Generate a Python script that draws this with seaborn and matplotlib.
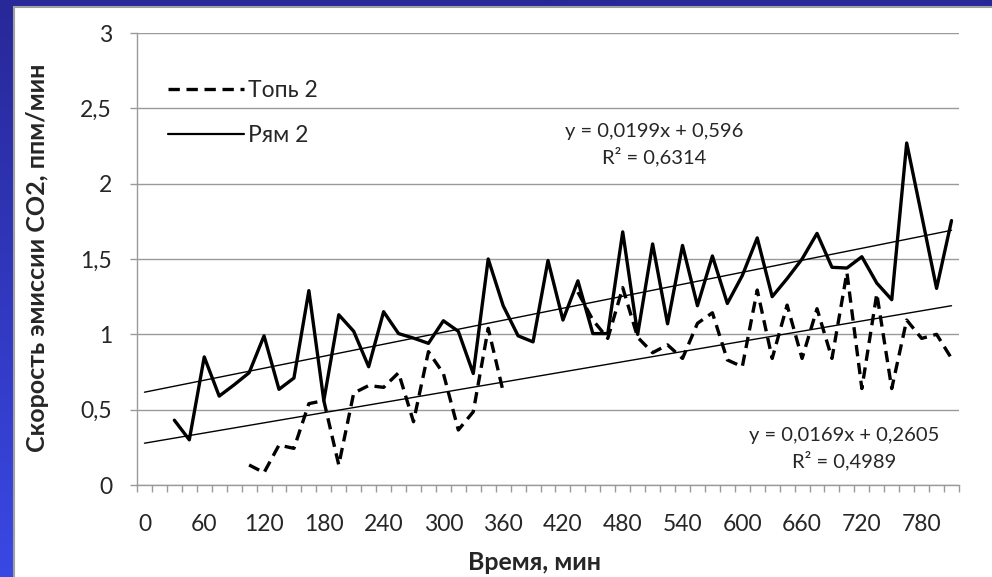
import numpy as np
import pandas as pd
import matplotlib
matplotlib.use("Agg")
import matplotlib.pyplot as plt
from matplotlib.lines import Line2D
from matplotlib.patches import Rectangle
import seaborn as sns

nan = np.nan
# categories: time in minutes (every 15 min)
times = list(range(0, 825, 15))  # 55 categories
tick_labels = ["0", "60", "120", "180", "240", "300", "360", "420",
               "480", "540", "600", "660", "720", "780"]

ryam2 = [nan, nan, 0.43, 0.30, 0.85, 0.59, 0.665, 0.745, 0.99, 0.635,
         0.71, 1.29, 0.56, 1.13, 1.02, 0.785, 1.15, 1.005, 0.975, 0.94,
         1.09, 1.02, 0.74, 1.50, 1.19, 0.99, 0.95, 1.49, 1.095, 1.355,
         1.005, 1.005, 1.68, 1.0, 1.60, 1.07, 1.59, 1.19, 1.52, 1.205,
         1.39, 1.64, 1.25, 1.37, 1.50, 1.67, 1.445, 1.44, 1.515, 1.34,
         1.23, 2.27, 1.79, 1.305, 1.755]

top2 = [nan, nan, nan, nan, nan, nan, nan, 0.133, 0.082, 0.265,
        0.243, 0.54, 0.56, 0.133, 0.61, 0.66, 0.648, 0.745, 0.42, 0.885,
        0.74, 0.365, 0.486, 1.04, 0.62, nan, nan, nan, nan, 1.28,
        1.095, 0.973, 1.31, 0.98, 0.878, 0.93, 0.84, 1.073, 1.143, 0.83,
        0.785, 1.294, 0.84, 1.194, 0.84, 1.17, 0.84, 1.41, 0.64, 1.27,
        0.64, 1.095, 0.973, 1.0, 0.84]

series_names = ["Топь 2", "Рям 2"]
trend_slope = [0.0169, 0.0199]
trend_icept = [0.2605, 0.596]
trend_text = ["y = 0,0169x + 0,2605\nR² = 0,4989",
              "y = 0,0199x + 0,596\nR² = 0,6314"]

# ---- build long data with segment ids (gaps break lines) ----
rows = []
for name, vals in zip(series_names, [top2, ryam2]):
    seg = 0
    prev_nan = True
    for i, v in enumerate(vals):
        if np.isnan(v):
            prev_nan = True
            continue
        if prev_nan:
            seg += 1
            prev_nan = False
        rows.append({"idx": i, "val": v, "series": name, "seg": f"{name}_{seg}"})
df = pd.DataFrame(rows)

n = len(times)
trows = []
for name, a, b in zip(series_names, trend_slope, trend_icept):
    for i in [0, n - 1]:
        trows.append({"idx": i, "val": a * (i + 1) + b, "series": name})
tdf = pd.DataFrame(trows)

sns.set_theme(style="white")
FONT = ["Lato", "DejaVu Sans"]
plt.rcParams["font.family"] = FONT

W, H = 992, 577
fig = plt.figure(figsize=(W / 100, H / 100), dpi=100)

# background blue frame with gradient
bg = fig.add_axes([0, 0, 1, 1], zorder=-10)
grad = np.linspace(0, 1, 256).reshape(-1, 1)
c_top = np.array([0x28, 0x28, 0x98]) / 255
c_bot = np.array([0x3a, 0x48, 0xe4]) / 255
img = c_top[None, None, :] * (1 - grad[:, :, None]) + c_bot[None, None, :] * grad[:, :, None]
bg.imshow(img, aspect="auto", extent=[0, 1, 0, 1], origin="upper")
bg.set_xlim(0, 1)
bg.set_ylim(0, 1)
bg.add_patch(Rectangle((14 / W, -0.01), 1.0, 1 - 7 / H + 0.01,
                       facecolor="white", edgecolor="#a0a0a0", linewidth=1.5))
bg.axis("off")

L, R, T, B = 137, 959, 33, 485
ax = fig.add_axes([L / W, 1 - B / H, (R - L) / W, (B - T) / H])
ax.set_facecolor("none")

LW = 2.4
DASH = (3.4, 2.0)
sns.lineplot(data=df, x="idx", y="val", style="series", units="seg",
             estimator=None, color="black", linewidth=LW,
             dashes={"Топь 2": DASH, "Рям 2": ""},
             style_order=series_names, legend=False, ax=ax, sort=False)
sns.lineplot(data=tdf, x="idx", y="val", units="series", estimator=None,
             color="black", linewidth=1.0, legend=False, ax=ax)

TXT = "#262626"
ax.set_xlim(-0.5, n - 0.5)
ax.set_ylim(0, 3)
ax.set_yticks(np.arange(0, 3.01, 0.5))
ax.set_yticklabels(["0", "0,5", "1", "1,5", "2", "2,5", "3"])
ax.set_xticks(np.arange(0, n, 4))
ax.set_xticklabels(tick_labels)
ax.set_xticks(np.arange(-0.5, n, 1), minor=True)
ax.grid(axis="y", color="#9a9a9a", linewidth=1.0)
ax.grid(axis="x", visible=False)
for s in ["top", "right"]:
    ax.spines[s].set_visible(False)
for s in ["left", "bottom"]:
    ax.spines[s].set_color("#9a9a9a")
    ax.spines[s].set_linewidth(1.0)
ax.tick_params(axis="x", which="major", length=0, pad=21, labelsize=16.5,
               colors=TXT)
ax.tick_params(axis="x", which="minor", length=5, width=1, color="#9a9a9a",
               direction="out", bottom=True)
ax.tick_params(axis="y", which="major", length=5, width=1, color="#9a9a9a",
               left=True, pad=13, labelsize=16.5, labelcolor=TXT)
ax.set_xlabel("")
ax.set_ylabel("")

fig.text(535 / W, 1 - 562 / H, "Время, мин", ha="center", va="center",
         fontsize=18, fontweight="bold", color=TXT)
fig.text(38 / W, 1 - 258 / H, "Скорость эмиссии CO2, ппм/мин", ha="center",
         va="center", rotation=90, fontsize=18, fontweight="bold", color=TXT)

# trendline equations
fig.text(654 / W, 1 - 145 / H, trend_text[1], ha="center", va="center",
         fontsize=14.5, color=TXT, linespacing=1.4)
fig.text(844 / W, 1 - 449 / H, trend_text[0], ha="center", va="center",
         fontsize=14.5, color=TXT, linespacing=1.4)

handles = [Line2D([], [], color="black", linewidth=LW, dashes=DASH),
           Line2D([], [], color="black", linewidth=1.6)]
leg = ax.legend(handles, series_names, loc="upper left",
                bbox_to_anchor=(152 / W, 1 - 64 / H), bbox_transform=fig.transFigure,
                frameon=False, fontsize=16.5, handlelength=3.3, handletextpad=0.2,
                labelspacing=1.05, borderpad=0.2)
for t in leg.get_texts():
    t.set_color(TXT)

fig.savefig("out.png", dpi=100)
